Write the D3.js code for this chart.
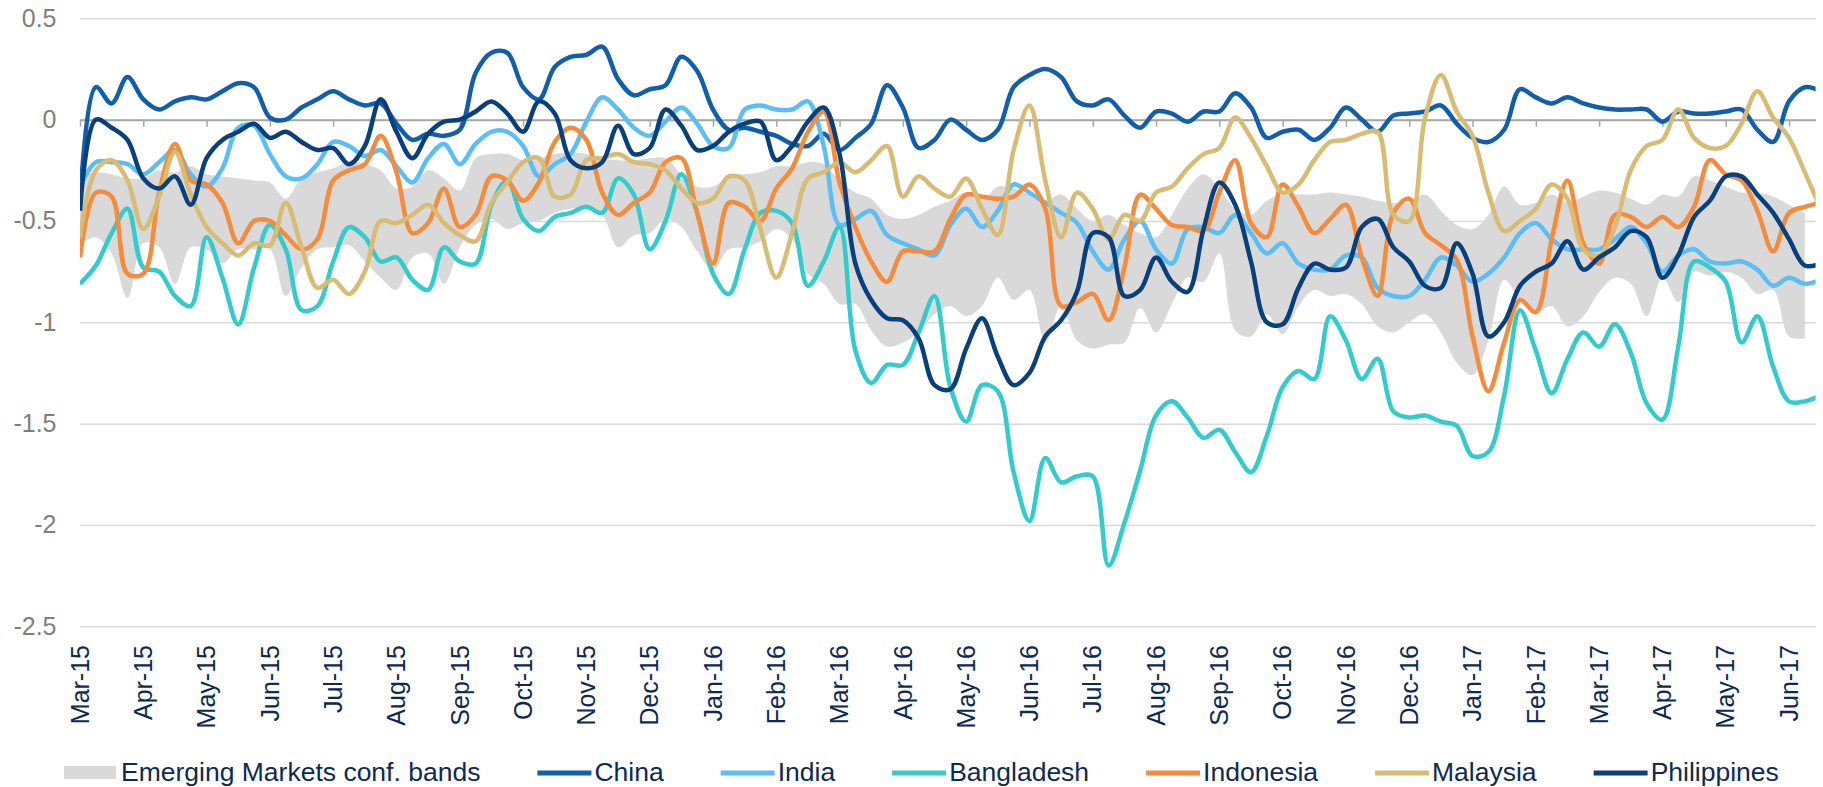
<!DOCTYPE html>
<html>
<head>
<meta charset="utf-8">
<script src="https://cdn.jsdelivr.net/npm/d3@7"></script>
<style>
  body { margin: 0; background: #fff; }
  svg { display: block; }
  text { font-family: "Liberation Sans", Arial, sans-serif; }
</style>
</head>
<body>
<svg id="chart" width="1823" height="787"></svg>
<script>
var width = 1823, height = 787

// month labels on the x axis (one tick per month, equally spaced)
var months = ["Mar-15","Apr-15","May-15","Jun-15","Jul-15","Aug-15","Sep-15","Oct-15","Nov-15","Dec-15",
  "Jan-16","Feb-16","Mar-16","Apr-16","May-16","Jun-16","Jul-16","Aug-16","Sep-16","Oct-16","Nov-16","Dec-16",
  "Jan-17","Feb-17","Mar-17","Apr-17","May-17","Jun-17"]

// samples are read every quarter month, starting at Mar-15
var step = 0.25

var china = [
  -0.42,0.16,0.08,0.21, 0.10,0.05,0.09,0.11, 0.10,0.14,0.18,0.16, 0.01,0.00,0.06,0.10,
  0.14,0.10,0.07,0.08, -0.02,-0.10,-0.07,-0.08, -0.05,0.23,0.33,0.33, 0.16,0.10,0.26,0.31,
  0.32,0.36,0.20,0.12, 0.15,0.17,0.31,0.24, 0.05,-0.05,-0.04,-0.06, -0.08,-0.12,-0.13,-0.07,
  -0.15,-0.09,-0.02,0.17, 0.06,-0.14,-0.10,0.00, -0.05,-0.10,-0.05,0.16, 0.22,0.25,0.21,0.09,
  0.07,0.10,0.02,-0.04, 0.04,0.03,-0.01,0.04, 0.04,0.13,0.06,-0.09, -0.06,-0.05,-0.10,-0.04,
  0.06,0.00,-0.06,0.02, 0.03,0.04,0.07,-0.02, -0.09,-0.11,-0.05,0.15, 0.11,0.08,0.11,0.08,
  0.06,0.05,0.05,0.05, -0.01,0.04,0.03,0.03, 0.04,0.05,-0.05,-0.11, 0.09,0.16,0.14]

var india = [
  -0.33,-0.21,-0.21,-0.22, -0.27,-0.21,-0.15,-0.27, -0.33,-0.24,-0.04,-0.03, -0.17,-0.28,-0.29,-0.22,
  -0.11,-0.13,-0.18,-0.15, -0.23,-0.31,-0.19,-0.12, -0.22,-0.12,-0.06,-0.06, -0.13,-0.28,-0.22,-0.17,
  -0.01,0.11,0.05,-0.04, -0.08,-0.01,0.06,-0.02, -0.13,-0.14,0.05,0.07, 0.05,0.05,0.09,-0.13,
  -0.52,-0.49,-0.45,-0.57, -0.61,-0.64,-0.67,-0.52, -0.44,-0.53,-0.45,-0.32, -0.36,-0.41,-0.46,-0.51,
  -0.65,-0.74,-0.59,-0.50, -0.64,-0.71,-0.54,-0.53, -0.56,-0.47,-0.56,-0.66, -0.61,-0.71,-0.74,-0.74,
  -0.67,-0.68,-0.83,-0.87, -0.87,-0.79,-0.68,-0.72, -0.80,-0.76,-0.68,-0.56, -0.51,-0.59,-0.64,-0.64,
  -0.64,-0.59,-0.53,-0.61, -0.75,-0.67,-0.64,-0.70, -0.71,-0.70,-0.74,-0.82, -0.78,-0.81,-0.79]

var bangladesh = [
  -0.81,-0.72,-0.56,-0.44, -0.73,-0.75,-0.87,-0.92, -0.58,-0.78,-1.01,-0.73, -0.52,-0.64,-0.94,-0.92,
  -0.70,-0.53,-0.58,-0.70, -0.68,-0.79,-0.84,-0.63, -0.70,-0.71,-0.42,-0.30, -0.49,-0.55,-0.48,-0.46,
  -0.43,-0.46,-0.29,-0.37, -0.64,-0.50,-0.27,-0.46, -0.76,-0.86,-0.64,-0.46, -0.45,-0.51,-0.82,-0.70,
  -0.53,-1.14,-1.30,-1.21, -1.21,-1.05,-0.87,-1.32, -1.49,-1.31,-1.34,-1.74, -1.98,-1.67,-1.79,-1.76,
  -1.76,-2.20,-1.99,-1.73, -1.46,-1.39,-1.47,-1.57, -1.53,-1.64,-1.74,-1.56, -1.32,-1.24,-1.28,-0.97,
  -1.09,-1.28,-1.18,-1.44, -1.47,-1.46,-1.49,-1.51, -1.66,-1.64,-1.36,-0.94, -1.14,-1.35,-1.18,-1.05,
  -1.12,-1.01,-1.15,-1.40, -1.48,-1.12,-0.70,-0.73, -0.80,-1.10,-0.97,-1.22, -1.39,-1.39,-1.36]

var indonesia = [
  -0.68,-0.36,-0.38,-0.76, -0.76,-0.36,-0.12,-0.30, -0.32,-0.41,-0.61,-0.50, -0.50,-0.57,-0.64,-0.59,
  -0.30,-0.25,-0.22,-0.08, -0.26,-0.56,-0.51,-0.34, -0.53,-0.47,-0.28,-0.30, -0.40,-0.31,-0.11,-0.04,
  -0.10,-0.36,-0.47,-0.41, -0.36,-0.21,-0.19,-0.46, -0.71,-0.41,-0.43,-0.50, -0.34,-0.24,-0.06,0.04,
  -0.31,-0.53,-0.70,-0.80, -0.65,-0.65,-0.65,-0.49, -0.37,-0.38,-0.39,-0.38, -0.32,-0.44,-0.92,-0.90,
  -0.86,-0.99,-0.73,-0.37, -0.44,-0.52,-0.53,-0.55, -0.36,-0.20,-0.51,-0.58, -0.32,-0.43,-0.56,-0.49,
  -0.42,-0.68,-0.87,-0.46, -0.39,-0.56,-0.62,-0.69, -1.07,-1.34,-1.10,-0.89, -0.95,-0.59,-0.30,-0.61,
  -0.71,-0.47,-0.48,-0.53, -0.48,-0.53,-0.43,-0.20, -0.27,-0.30,-0.45,-0.65, -0.46,-0.43,-0.41]

var malaysia = [
  -0.58,-0.25,-0.20,-0.30, -0.54,-0.38,-0.16,-0.37, -0.53,-0.61,-0.67,-0.61, -0.62,-0.41,-0.63,-0.83,
  -0.79,-0.86,-0.75,-0.50, -0.51,-0.47,-0.42,-0.51, -0.57,-0.60,-0.41,-0.31, -0.21,-0.19,-0.38,-0.37,
  -0.20,-0.19,-0.17,-0.21, -0.22,-0.25,-0.34,-0.41, -0.39,-0.28,-0.30,-0.54, -0.78,-0.56,-0.29,-0.26,
  -0.21,-0.26,-0.20,-0.13, -0.38,-0.28,-0.34,-0.38, -0.29,-0.44,-0.57,-0.15, 0.07,-0.30,-0.58,-0.36,
  -0.44,-0.59,-0.47,-0.50, -0.36,-0.33,-0.24,-0.17, -0.14,0.01,-0.09,-0.23, -0.36,-0.32,-0.20,-0.11,
  -0.10,-0.07,-0.06,-0.47, -0.50,0.01,0.22,0.04, -0.08,-0.36,-0.55,-0.50, -0.44,-0.32,-0.39,-0.64,
  -0.67,-0.53,-0.25,-0.13, -0.10,0.05,-0.09,-0.14, -0.13,-0.02,0.14,0.01, -0.09,-0.26,-0.44]

var philippines = [
  -0.45,0.00,-0.04,-0.10, -0.29,-0.34,-0.28,-0.42, -0.19,-0.10,-0.06,-0.02, -0.09,-0.06,-0.11,-0.15,
  -0.14,-0.22,-0.13,0.10, -0.06,-0.19,-0.07,-0.01, 0.00,0.04,0.09,0.03, -0.06,0.09,0.03,-0.20,
  -0.24,-0.21,-0.03,-0.17, -0.14,0.05,-0.03,-0.15, -0.13,-0.06,-0.02,-0.01, -0.20,-0.13,-0.01,0.06,
  -0.17,-0.71,-0.89,-0.98, -0.99,-1.08,-1.31,-1.33, -1.13,-0.98,-1.17,-1.31, -1.25,-1.07,-0.99,-0.85,
  -0.56,-0.58,-0.87,-0.84, -0.68,-0.80,-0.85,-0.54, -0.31,-0.42,-0.70,-1.00, -1.01,-0.83,-0.71,-0.74,
  -0.73,-0.53,-0.49,-0.63, -0.70,-0.82,-0.83,-0.61, -0.76,-1.07,-1.00,-0.82, -0.75,-0.71,-0.60,-0.74,
  -0.68,-0.63,-0.55,-0.58, -0.78,-0.67,-0.48,-0.40, -0.28,-0.28,-0.37,-0.46, -0.59,-0.72,-0.71]

// Emerging Markets confidence band (upper and lower edge), ends a little earlier
var bandHigh = [
  -0.28,-0.26,-0.27,-0.29, -0.29,-0.25,-0.26,-0.23, -0.27,-0.28,-0.29,-0.30, -0.31,-0.39,-0.29,-0.26,
  -0.24,-0.21,-0.22,-0.25, -0.34,-0.33,-0.25,-0.29, -0.35,-0.19,-0.17,-0.17, -0.20,-0.19,-0.17,-0.16,
  -0.17,-0.19,-0.20,-0.20, -0.19,-0.19,-0.27,-0.33, -0.33,-0.28,-0.27,-0.26, -0.23,-0.23,-0.21,-0.22,
  -0.30,-0.36,-0.39,-0.47, -0.49,-0.47,-0.43,-0.40, -0.36,-0.40,-0.33,-0.34, -0.37,-0.40,-0.37,-0.44,
  -0.50,-0.47,-0.52,-0.56, -0.58,-0.47,-0.34,-0.27, -0.34,-0.44,-0.47,-0.40, -0.37,-0.37,-0.37,-0.36,
  -0.37,-0.38,-0.40,-0.41, -0.41,-0.37,-0.45,-0.52, -0.54,-0.47,-0.33,-0.42, -0.41,-0.37,-0.41,-0.38,
  -0.35,-0.36,-0.39,-0.42, -0.37,-0.38,-0.28,-0.30, -0.33,-0.36,-0.36,-0.38, -0.42,-0.46]

var bandLow = [
  -0.62,-0.58,-0.66,-0.88, -0.61,-0.63,-0.81,-0.63, -0.64,-0.71,-0.64,-0.64, -0.64,-0.87,-0.73,-0.64,
  -0.63,-0.62,-0.70,-0.78, -0.84,-0.68,-0.66,-0.81, -0.63,-0.52,-0.49,-0.54, -0.51,-0.50,-0.46,-0.44,
  -0.44,-0.47,-0.63,-0.57, -0.56,-0.49,-0.53,-0.65, -0.74,-0.64,-0.63,-0.60, -0.54,-0.59,-0.76,-0.81,
  -0.91,-0.91,-1.04,-1.12, -1.10,-1.05,-0.96,-0.92, -0.97,-0.92,-0.78,-0.89, -0.84,-1.10,-0.92,-1.09,
  -1.13,-1.11,-1.10,-0.93, -1.05,-0.91,-0.78,-0.80, -0.66,-1.04,-1.07,-0.96, -1.06,-0.92,-0.84,-0.87,
  -0.86,-0.91,-1.02,-1.05, -1.00,-0.96,-1.05,-1.20, -1.26,-1.09,-0.79,-0.89, -0.95,-0.92,-1.02,-0.97,
  -0.85,-0.78,-0.81,-0.97, -0.78,-0.90,-0.75,-0.77, -0.75,-0.78,-0.86,-0.84, -1.07,-1.08]

var series = [
  {name: "China", values: china, color: "#0f5fae"},
  {name: "India", values: india, color: "#5bbef6"},
  {name: "Bangladesh", values: bangladesh, color: "#33cccc"},
  {name: "Indonesia", values: indonesia, color: "#f78b3c"},
  {name: "Malaysia", values: malaysia, color: "#d8bc74"},
  {name: "Philippines", values: philippines, color: "#08407e"}
]
var bandColor = "#d9d9d9"
var textColor = "#0d2a52"

// plot area edges (window.top is read-only, so use other names)
var plotLeft = 80, plotRight = 1815.6, plotTop = 18.3, plotBottom = 626.3

var x = d3.scaleLinear().domain([0, 27.42]).range([plotLeft, plotRight])
var y = d3.scaleLinear().domain([-2.5, 0.5]).range([plotBottom, plotTop])

var svg = d3.select("#chart")

svg.append("clipPath").attr("id", "plot")
  .append("rect").attr("x", plotLeft).attr("y", 0)
  .attr("width", plotRight - plotLeft).attr("height", height)

// horizontal gridlines and y labels
var yAxis = svg.append("g")
    .attr("transform", "translate(" + plotLeft + ",0)")
    .call(d3.axisLeft(y)
      .tickValues([0.5, 0, -0.5, -1, -1.5, -2, -2.5])
      .tickSize(-(plotRight - plotLeft))
      .tickPadding(23.5)
      .tickFormat(d => String(d)))
yAxis.select(".domain").remove()
yAxis.selectAll("line")
    .attr("stroke", "#d9d9d9")
    .attr("stroke-width", 1.5)
yAxis.selectAll("text")
    .attr("fill", "#7f7f7f")
    .attr("font-size", 25)
    .attr("font-family", "Liberation Sans, Arial, sans-serif")

// confidence band
var band = d3.area()
    .x((d, i) => x(i * step))
    .y0((d, i) => y(bandLow[i]))
    .y1(d => y(d))
    .curve(d3.curveCatmullRom.alpha(0.5))

svg.append("path")
    .datum(bandHigh)
    .attr("fill", bandColor)
    .attr("d", band)

// zero line acts as the x axis, with month tick marks
var xAxis = svg.append("g")
    .attr("transform", "translate(0," + y(0) + ")")
    .call(d3.axisBottom(x)
      .tickValues(d3.range(months.length))
      .tickSize(7)
      .tickSizeOuter(0)
      .tickFormat(""))
xAxis.select(".domain").attr("stroke", "#a6a6a6").attr("stroke-width", 2)
xAxis.selectAll("line").attr("stroke", "#a6a6a6").attr("stroke-width", 1.5)

// month labels below the plot, rotated
svg.append("g").selectAll("text")
  .data(months)
  .enter().append("text")
    .attr("transform", (d, i) => "translate(" + x(i) + ",645) rotate(-90)")
    .attr("dy", "0.35em")
    .attr("text-anchor", "end")
    .attr("font-size", 25)
    .attr("fill", textColor)
    .text(d => d)

// country lines
var line = d3.line()
    .x((d, i) => x(i * step))
    .y(d => y(d))
    .curve(d3.curveCatmullRom.alpha(0.5))

svg.append("g")
    .attr("clip-path", "url(#plot)")
  .selectAll("path")
  .data(series)
  .enter().append("path")
    .attr("fill", "none")
    .attr("stroke", d => d.color)
    .attr("stroke-width", 4.5)
    .attr("stroke-linejoin", "round")
    .attr("d", d => line(d.values))

// legend, laid out left to right
var legend = svg.append("g").attr("transform", "translate(0,773)")
var items = [{name: "Emerging Markets conf. bands", band: true}].concat(series)
var cx = 64
items.forEach(function(it) {
  if (it.band) {
    legend.append("rect").attr("x", cx).attr("y", -7).attr("width", 52).attr("height", 13).attr("fill", bandColor)
  } else {
    legend.append("line").attr("x1", cx).attr("x2", cx + 54).attr("y1", 0).attr("y2", 0)
      .attr("stroke", it.color).attr("stroke-width", 5)
  }
  cx += 57
  var t = legend.append("text").attr("x", cx).attr("y", 8)
      .attr("font-size", 26.5).attr("fill", textColor).text(it.name)
  cx += t.node().getComputedTextLength() + 57
})
</script>
</body>
</html>
